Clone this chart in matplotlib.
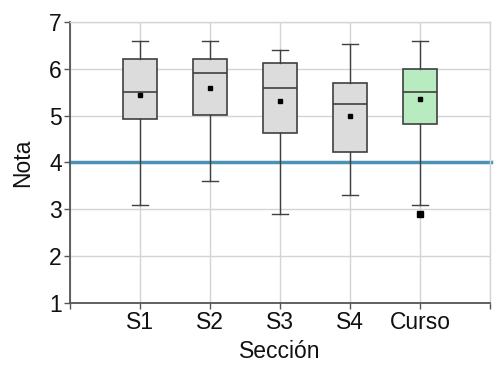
import matplotlib
matplotlib.use("Agg")
import matplotlib.pyplot as plt

plt.rcParams['font.family'] = ['Liberation Sans', 'DejaVu Sans']

categories = ["S1", "S2", "S3", "S4", "Curso"]
whisker_low = [3.1, 3.6, 2.9, 3.3, 3.1]
q1 = [4.92, 5.02, 4.63, 4.23, 4.83]
median = [5.5, 5.9, 5.6, 5.25, 5.5]
q3 = [6.2, 6.2, 6.12, 5.7, 6.0]
whisker_high = [6.6, 6.6, 6.4, 6.52, 6.6]
means = [5.45, 5.6, 5.32, 5.0, 5.36]
outliers = [[], [], [], [], [2.9]]
box_colors = ["#dcdcdc", "#dcdcdc", "#dcdcdc", "#dcdcdc", "#b9ebc0"]
threshold = 4.0

fig = plt.figure(figsize=(5, 3.67), dpi=100)
ax = fig.add_axes([0.14, 0.175, 0.84, 0.765])

positions = list(range(1, len(categories) + 1))
stats = []
for i in range(len(categories)):
    stats.append(dict(whislo=whisker_low[i], q1=q1[i], med=median[i], q3=q3[i],
                      whishi=whisker_high[i], mean=means[i], fliers=outliers[i],
                      label=categories[i]))

edge = "#404040"
bp = ax.bxp(stats, positions=positions, widths=0.48, showmeans=True,
            patch_artist=True, showfliers=True,
            boxprops=dict(edgecolor=edge, linewidth=1.2),
            medianprops=dict(color=edge, linewidth=1.2),
            whiskerprops=dict(color=edge, linewidth=1.0),
            capprops=dict(color=edge, linewidth=1.0),
            meanprops=dict(marker='s', markerfacecolor='black', markeredgecolor='black', markersize=3.2),
            flierprops=dict(marker='s', markerfacecolor='black', markeredgecolor='black', markersize=5))
for patch, c in zip(bp['boxes'], box_colors):
    patch.set_facecolor(c)
    patch.set_zorder(3)
for key in ['medians', 'whiskers', 'caps', 'means', 'fliers']:
    for a in bp[key]:
        a.set_zorder(4)

ax.axhline(threshold, color="#4a92b6", linewidth=2.5, zorder=2, clip_on=False, xmax=1.003)

ax.set_xlim(0, 6)
ax.set_ylim(1, 7)
ax.set_xticks(range(0, 7))
ax.set_xticklabels([""] + categories + [""])
ax.set_yticks(range(1, 8))
ax.grid(True, color="#d4d4d4", linewidth=1.0, zorder=0)
ax.set_axisbelow(True)

for s in ['top', 'right']:
    ax.spines[s].set_color("#d4d4d4")
    ax.spines[s].set_linewidth(1.0)
for s in ['left', 'bottom']:
    ax.spines[s].set_color("#555555")
    ax.spines[s].set_linewidth(1.3)

ax.tick_params(axis='both', labelsize=16.5, length=4, width=1.0, color="#555555", pad=2, labelcolor="#111111")
ax.set_xlabel("Sección", fontsize=16.5, labelpad=4, color="#111111")
ax.set_ylabel("Nota", fontsize=16.5, labelpad=11, color="#111111")

fig.savefig("out.png", dpi=100)
